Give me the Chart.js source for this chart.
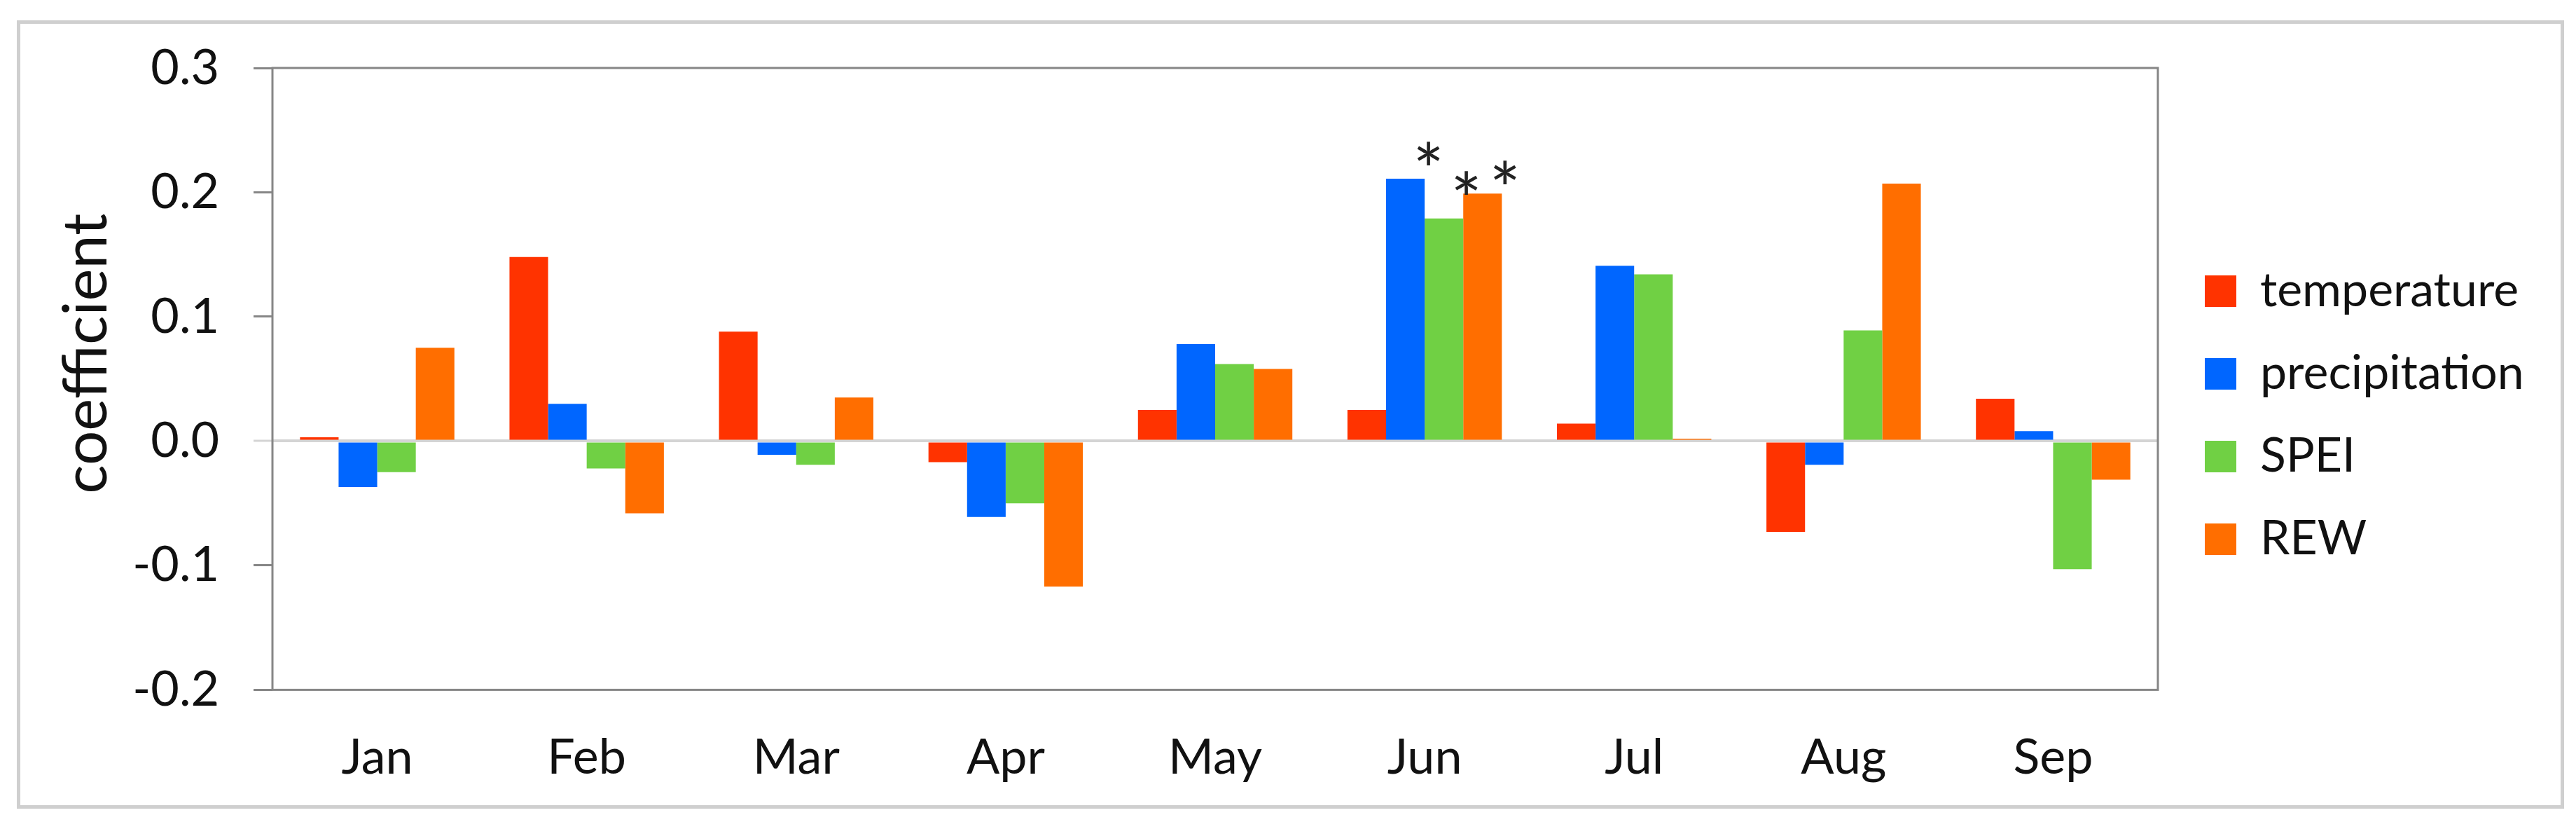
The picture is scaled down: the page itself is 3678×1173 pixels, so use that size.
<!DOCTYPE html>
<html>
  <head>
    <meta charset="utf-8" />
    <title>coefficient</title>
    <script src="https://cdn.jsdelivr.net/npm/chart.js"></script>
    <style>
      html,
      body {
        margin: 0;
        padding: 0;
        background: #fff;
      }
      #wrap {
        position: relative;
        width: 3678px;
        height: 1173px;
      }
      #frame {
        position: absolute;
        left: 24px;
        top: 29px;
        width: 3627px;
        height: 1115px;
        border: 5px solid #cfcfcf;
        pointer-events: none;
      }
    </style>
  </head>

  <body>
    <div id="wrap">
      <canvas id="myChart" width="3678" height="1173"></canvas>
      <div id="frame"></div>
    </div>

    <script>
      const months = ["Jan", "Feb", "Mar", "Apr", "May", "Jun", "Jul", "Aug", "Sep"];
      const temperature = [0.003, 0.148, 0.088, -0.017, 0.025, 0.025, 0.014, -0.073, 0.034];
      const precipitation = [-0.037, 0.03, -0.011, -0.061, 0.078, 0.211, 0.141, -0.019, 0.008];
      const spei = [-0.025, -0.022, -0.019, -0.05, 0.062, 0.179, 0.134, 0.089, -0.103];
      const rew = [0.075, -0.058, 0.035, -0.117, 0.058, 0.199, 0.002, 0.207, -0.031];
      const yTicks = [-0.2, -0.1, 0.0, 0.1, 0.2, 0.3];

      // significance marks (*): which series / month
      const starSeries = [1, 2, 3];
      const starMonth = [5, 5, 5];
      const starDx = [33, 32, 32];
      const starDy = [36, 51, 30];

      Chart.defaults.font.family = "Lato";
      Chart.defaults.color = "#111";

      const isZero = (c) => c.tick && Math.abs(c.tick.value) < 1e-9;

      const plotFrame = {
        id: "plotFrame",
        afterDatasetsDraw(chart) {
          const { ctx, chartArea: a } = chart;
          ctx.save();
          ctx.strokeStyle = "#868686";
          ctx.lineWidth = 3;
          ctx.strokeRect(a.left, a.top, a.right - a.left, a.bottom - a.top);
          ctx.restore();
        },
      };

      const sigMarks = {
        id: "sigMarks",
        afterDatasetsDraw(chart) {
          const ctx = chart.ctx;
          ctx.save();
          ctx.font = "105px Lato";
          ctx.fillStyle = "#222";
          ctx.textAlign = "center";
          ctx.textBaseline = "alphabetic";
          const m = ctx.measureText("*");
          const mid = (m.actualBoundingBoxAscent - m.actualBoundingBoxDescent) / 2;
          starSeries.forEach((s, i) => {
            const bar = chart.getDatasetMeta(s).data[starMonth[i]];
            ctx.fillText("*", bar.x + starDx[i], bar.y - starDy[i] + mid);
          });
          ctx.restore();
        },
      };

      const yTitle = {
        id: "yTitle",
        afterDraw(chart) {
          const { ctx, chartArea } = chart;
          ctx.save();
          ctx.translate(152, (chartArea.top + chartArea.bottom) / 2 - 36);
          ctx.rotate(-Math.PI / 2);
          ctx.font = "87px Lato";
          ctx.fillStyle = "#111";
          ctx.textAlign = "center";
          ctx.textBaseline = "alphabetic";
          ctx.fillText("coefficient", 0, 0);
          ctx.restore();
        },
      };

      const data = {
        labels: months,
        datasets: [
          { label: "temperature", data: temperature, backgroundColor: "#ff3300" },
          { label: "precipitation", data: precipitation, backgroundColor: "#0066ff" },
          { label: "SPEI", data: spei, backgroundColor: "#70d044" },
          { label: "REW", data: rew, backgroundColor: "#ff6e00" },
        ],
      };

      const config = {
        type: "bar",
        data: data,
        plugins: [plotFrame, sigMarks, yTitle],
        options: {
          responsive: false,
          animation: false,
          layout: { padding: { top: 61.6, bottom: 49.6, left: 0, right: 75 } },
          datasets: {
            bar: { categoryPercentage: 0.737, barPercentage: 1.0, borderWidth: 0 },
          },
          plugins: {
            tooltip: { enabled: false },
            legend: {
              position: "right",
              align: "center",
              maxWidth: 505,
              labels: {
                boxWidth: 45,
                boxHeight: 45,
                padding: 50,
                font: { size: 68 },
                color: "#111",
              },
            },
          },
          scales: {
            x: {
              grid: { display: false, drawTicks: false },
              border: { display: false },
              ticks: { padding: 55, font: { size: 70 } },
              afterFit(s) {
                s.height = 139;
              },
            },
            xPad: {
              type: "linear",
              position: "top",
              grid: { display: false, drawTicks: false },
              border: { display: false },
              ticks: { display: false },
              afterFit(s) {
                s.height = 35.4;
              },
            },
            y: {
              min: -0.2,
              max: 0.3,
              afterBuildTicks(s) {
                s.ticks = yTicks.map((v) => ({ value: v }));
              },
              border: { display: false },
              grid: {
                color: (c) => (isZero(c) ? "#d4d4d4" : "rgba(0,0,0,0)"),
                lineWidth: (c) => (isZero(c) ? 4 : 3),
                tickColor: (c) => (isZero(c) ? "#d4d4d4" : "#868686"),
                tickWidth: 3,
                tickLength: 27,
              },
              ticks: {
                padding: 49,
                font: { size: 70 },
                callback: (v) => v.toFixed(1),
              },
              afterFit(s) {
                s.width = 389;
              },
            },
            yPad: {
              position: "right",
              grid: { display: false, drawTicks: false },
              border: { display: false },
              ticks: { display: false },
              afterFit(s) {
                s.width = 17;
              },
            },
          },
        },
      };

      const myChart = new Chart(document.getElementById("myChart"), config);
    </script>
  </body>
</html>
